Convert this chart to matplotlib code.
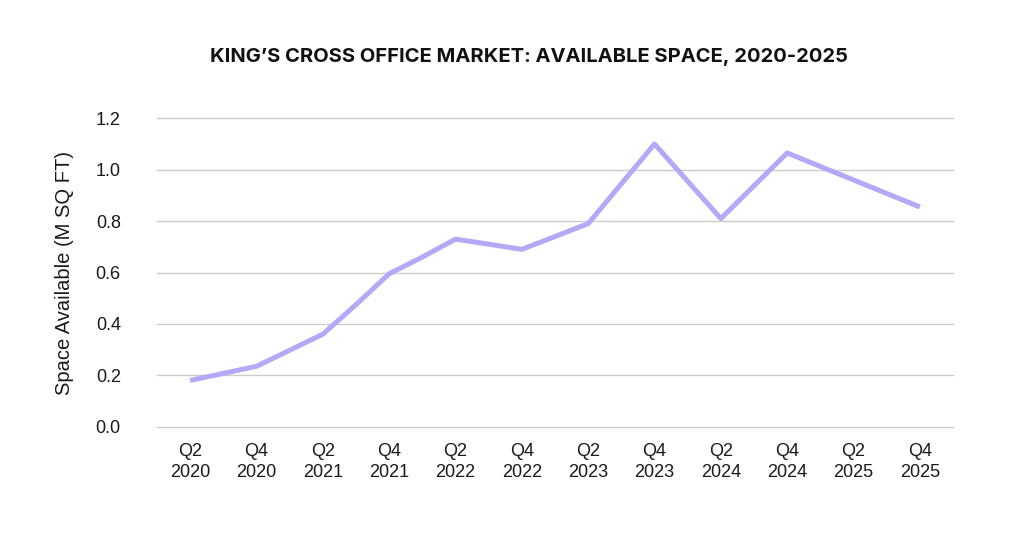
import matplotlib.pyplot as plt

# Quarter index: 0 = Q2 2020 ... 22 = Q4 2025
quarters = [0, 2, 4, 5, 6, 7, 8, 10, 12, 14, 16, 18, 20, 22]
space = [0.18, 0.235, 0.36, 0.475, 0.595, 0.66, 0.73, 0.69, 0.79, 1.10, 0.81, 1.065, 0.96, 0.855]

tick_pos = [0, 2, 4, 6, 8, 10, 12, 14, 16, 18, 20, 22]
tick_labels = ['Q2\n2020', 'Q4\n2020', 'Q2\n2021', 'Q4\n2021', 'Q2\n2022', 'Q4\n2022',
               'Q2\n2023', 'Q4\n2023', 'Q2\n2024', 'Q4\n2024', 'Q2\n2025', 'Q4\n2025']
y_ticks = [0.0, 0.2, 0.4, 0.6, 0.8, 1.0, 1.2]

plt.rcParams['font.family'] = ['Liberation Sans', 'DejaVu Sans']

fig = plt.figure(figsize=(10.24, 5.35), dpi=100)
ax = fig.add_axes([0.1533, 0.2024, 0.7774, 0.5765])

ax.plot(quarters, space, color='#b5a8f6', linewidth=3.6, solid_capstyle='butt', zorder=3)

ax.set_xlim(-1, 23)
ax.set_ylim(0, 1.2)
ax.set_yticks(y_ticks)
ax.set_yticklabels([f'{v:.1f}' for v in y_ticks])
ax.set_xticks(tick_pos)
ax.set_xticklabels(tick_labels, linespacing=1.3)
ax.tick_params(axis='both', length=0, labelsize=13, colors='#1a1a1a')
ax.tick_params(axis='y', pad=26)
ax.tick_params(axis='x', pad=12)
ax.grid(axis='y', color='#cccccc', linewidth=1)
for gl in ax.get_ygridlines():
    gl.set_clip_on(False)
ax.set_axisbelow(True)
for s in ax.spines.values():
    s.set_visible(False)

ax.set_ylabel('Space Available (M SQ FT)', fontsize=14.5, color='#1a1a1a', labelpad=16)

fig.text(0.517, 0.893, 'KING\u2019S CROSS OFFICE MARKET: AVAILABLE SPACE, 2020-2025',
         ha='center', va='center', fontsize=14.5, fontweight='bold', family='Inter', color='#111111')

fig.savefig('out.png', dpi=100)
